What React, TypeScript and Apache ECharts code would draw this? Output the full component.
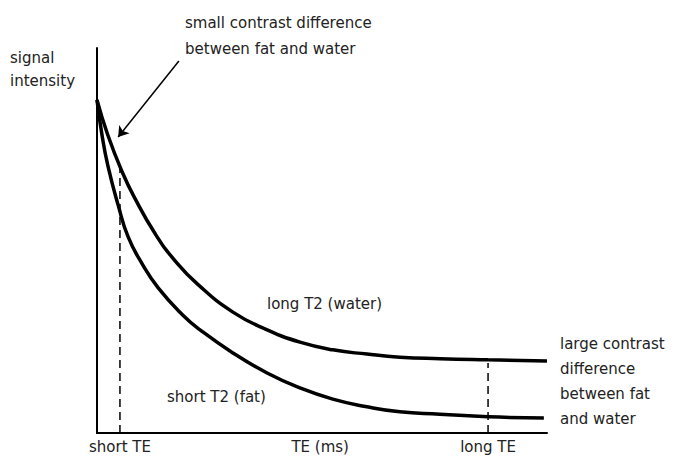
import React, { useEffect, useRef } from "react";
import * as echarts from "echarts";

// TE (arbitrary units 0..100), signal (0..100)
const waterTE = [0, 2.4, 5.6, 8.4, 12.9, 17.3, 22.4, 30.2, 37.8, 45.1, 52.4, 60.0, 67.3, 76.2, 86.9, 100];
const waterSignal = [86.5, 77.4, 67.8, 61.0, 51.8, 44.8, 38.6, 31.4, 26.8, 23.6, 21.6, 20.5, 19.7, 19.3, 19.0, 18.7];

const fatTE = [0, 1.1, 2.4, 4.7, 6.9, 10.0, 13.6, 19.1, 22.9, 30.2, 37.8, 45.1, 52.4, 60.0, 67.3, 76.2, 86.9, 99.3];
const fatSignal = [86.5, 77.5, 69.5, 59.2, 51.0, 44.0, 37.7, 30.6, 26.8, 20.8, 15.6, 11.7, 8.8, 6.8, 5.5, 4.9, 4.2, 3.9];

const tickValues = [5.1, 49.6, 86.9];
const tickLabels = ["short TE", "TE (ms)", "long TE"];

const shortTE = 5.1;
const shortTETop = 69.0;
const longTE = 86.9;
const longTETop = 18.2;

const arrowFrom = [18.2, 96.6];
const arrowTo = [4.7, 76.9];

const FONT = "'DejaVu Sans', sans-serif";
const TXT = "#222";

export default function App() {
  const ref = useRef<HTMLDivElement>(null);
  useEffect(() => {
    if (!ref.current) return;
    const chart = echarts.init(ref.current, null, { renderer: "svg" });
    const zip = (a: number[], b: number[]) => a.map((v, i) => [v, b[i]]);
    const textStyle = (text: string, lh: number) => ({
      text,
      fill: TXT,
      font: `15px ${FONT}`,
      lineHeight: lh,
    });
    chart.setOption({
      animation: false,
      grid: { left: 97, right: 138, top: 48, bottom: 24, containLabel: false, outerBoundsMode: "none" },
      xAxis: {
        type: "value",
        min: 0,
        max: 100,
        axisLine: { show: true, onZero: false, lineStyle: { color: "#000", width: 2 } },
        axisTick: { show: false },
        splitLine: { show: false },
        axisLabel: {
          show: true,
          customValues: tickValues,
          margin: 6,
          color: TXT,
          fontSize: 15,
          fontFamily: FONT,
          formatter: (v: number) => {
            let best = 0;
            tickValues.forEach((t, i) => {
              if (Math.abs(t - v) < Math.abs(tickValues[best] - v)) best = i;
            });
            return tickLabels[best];
          },
        },
      },
      yAxis: {
        type: "value",
        min: 0,
        max: 100,
        axisLine: { show: true, lineStyle: { color: "#000", width: 2 } },
        axisTick: { show: false },
        splitLine: { show: false },
        axisLabel: { show: false },
      },
      series: [
        {
          name: "long T2 (water)",
          type: "line",
          data: zip(waterTE, waterSignal),
          smooth: 0.5,
          symbol: "none",
          lineStyle: { color: "#000", width: 3.5 },
          markLine: {
            silent: true,
            symbol: ["none", "arrow"],
            symbolSize: 10,
            label: { show: false },
            lineStyle: { color: "#000", width: 1.5, type: "solid" },
            data: [[{ coord: arrowFrom }, { coord: arrowTo }]],
          },
        },
        {
          name: "short T2 (fat)",
          type: "line",
          data: zip(fatTE, fatSignal),
          smooth: 0.5,
          symbol: "none",
          lineStyle: { color: "#000", width: 3.5 },
        },
        {
          type: "line",
          data: [[shortTE, 0], [shortTE, shortTETop]],
          symbol: "none",
          lineStyle: { color: "#000", width: 1.5, type: [8, 5] },
        },
        {
          type: "line",
          data: [[longTE, 0], [longTE, longTETop]],
          symbol: "none",
          lineStyle: { color: "#000", width: 1.5, type: [8, 5] },
        },
      ],
      graphic: [
        { type: "text", left: 10, top: 46, style: textStyle("signal\nintensity", 23) },
        { type: "text", left: 185, top: 10, style: textStyle("small contrast difference\nbetween fat and water", 26) },
        { type: "text", left: 267, top: 294, style: textStyle("long T2 (water)", 20) },
        { type: "text", left: 167, top: 387, style: textStyle("short T2 (fat)", 20) },
        {
          type: "text",
          left: 560,
          top: 331,
          style: textStyle("large contrast\ndifference\nbetween fat\nand water", 25),
        },
      ],
    });
    return () => chart.dispose();
  }, []);
  return (
    <div
      ref={ref}
      style={{ position: "fixed", left: 0, top: 0, width: 685, height: 457, background: "#fff" }}
    />
  );
}
